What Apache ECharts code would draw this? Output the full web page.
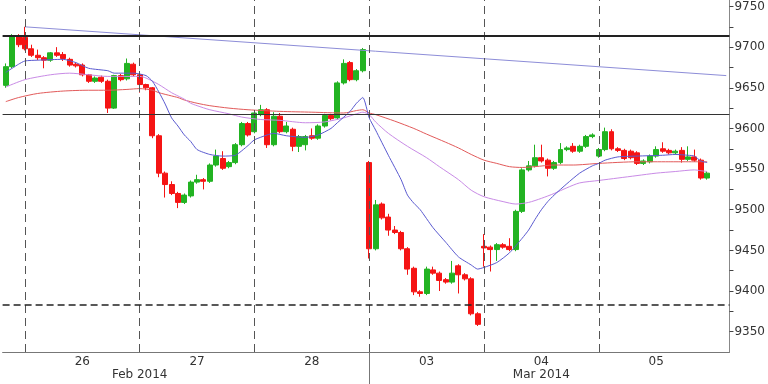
<!DOCTYPE html>
<html><head><meta charset="utf-8">
<script src="https://cdn.jsdelivr.net/npm/echarts@6/dist/echarts.min.js"></script>
<style>html,body{margin:0;padding:0;background:#fff}#c{width:768px;height:384px}</style>
</head><body><div id="c"></div>
<script>
// day names for slot groups (first group = tail of previous day, last = empty start of next day)
const dayLabels = ['25', '26', '27', '28', '03', '04', '05', '06'];
const monthLabels = { 21: 'Feb 2014', 84: 'Mar 2014' };
const daySeparators = [3, 21, 39, 57, 75, 93];

// OHLC, one value per hourly candle
const open = [9653,9676,9714,9712,9698,9690,9687,9684,9693,9691,9685,9679,9678,9666,9658,9663,9658,9625,9665,9661,9679,
 9666,9654,9650,9591,9545,9531,9520,9509,9517,9534,9537,9535,9555,9563,9553,9558,9580,9606,
 9596,9617,9623,9580,9615,9596,9599,9578,9580,9591,9588,9603,9616,9613,9656,9681,9660,9671,
 9558,9452,9507,9491,9475,9472,9452,9428,9399,9397,9426,9422,9414,9411,9431,9420,9415,9372,
 9455,9454,9451,9457,9455,9451,9498,9549,9554,9564,9561,9551,9558,9574,9578,9572,9578,9590,
 9566,9574,9596,9575,9573,9572,9570,9557,9559,9566,9575,9573,9570,9573,9562,9565,9561,9539];
const close = [9676,9714,9703,9698,9690,9687,9684,9693,9690,9686,9678,9677,9666,9658,9662,9658,9625,9665,9660,9680,9666,
 9654,9650,9591,9545,9531,9520,9509,9518,9534,9537,9535,9555,9566,9551,9558,9580,9606,9592,
 9619,9623,9580,9615,9596,9603,9578,9590,9590,9588,9603,9616,9612,9656,9680,9660,9671,9697,
 9452,9506,9490,9475,9472,9452,9427,9399,9397,9427,9422,9413,9411,9422,9420,9415,9372,9359,
 9453,9451,9457,9454,9451,9498,9549,9554,9564,9560,9551,9558,9574,9576,9572,9578,9590,9592,
 9574,9596,9575,9573,9563,9564,9557,9560,9566,9574,9572,9570,9572,9562,9565,9561,9539,9545];
const low = [9650,9674,9700,9696,9688,9684,9674,9682,9688,9683,9676,9675,9664,9656,9656,9656,9619,9624,9658,9659,9664,
 9644,9647,9588,9540,9515,9518,9502,9507,9515,9532,9525,9533,9553,9549,9551,9556,9578,9590,
 9594,9615,9576,9578,9594,9594,9572,9571,9573,9586,9586,9601,9610,9611,9654,9658,9658,9669,
 9440,9450,9488,9468,9470,9450,9420,9395,9393,9395,9420,9400,9409,9409,9397,9413,9370,9357,
 9430,9424,9437,9452,9449,9449,9496,9547,9552,9558,9541,9549,9556,9572,9570,9570,9576,9588,
 9564,9572,9573,9571,9561,9562,9555,9555,9557,9564,9570,9568,9568,9558,9560,9559,9537,9537];
const high = [9680,9716,9716,9725,9703,9697,9689,9694,9700,9694,9687,9681,9680,9667,9664,9665,9660,9666,9667,9686,9681,
 9667,9655,9651,9593,9547,9535,9522,9520,9536,9543,9539,9557,9574,9572,9560,9582,9608,9608,
 9622,9629,9625,9620,9619,9608,9601,9592,9592,9600,9605,9618,9618,9658,9685,9683,9673,9699,
 9560,9512,9509,9495,9480,9474,9454,9430,9401,9430,9430,9424,9416,9437,9433,9422,9417,9374,
 9470,9456,9459,9459,9465,9500,9551,9560,9580,9580,9563,9560,9582,9578,9582,9580,9592,9594,
 9576,9601,9599,9577,9575,9574,9572,9562,9568,9578,9583,9575,9574,9577,9578,9574,9563,9547];

// moving averages: [candle slot, value]
const maBlue = [[0,9669],[2,9679],[3,9683],[5,9684],[9,9685],[11,9681],[13,9674],[16,9671],[17,9668],[20,9668],[22,9665],
 [23,9658],[24,9645],[25,9630],[26,9613],[27,9603],[28,9592],[29,9584],[30,9574],[32,9568],[34,9566],[36,9567],[38,9579],
 [39,9586],[41,9592],[42,9594],[44,9591],[47,9589],[49,9592],[51,9600],[52,9607],[54,9621],[55,9631],[56,9638],[57,9613],
 [58,9598],[60,9567],[62,9537],[63,9518],[64,9508],[65,9500],[67,9478],[69,9460],[71,9442],[73,9432],[74,9427],[75,9429],
 [77,9435],[79,9447],[81,9465],[82,9475],[83,9488],[84,9500],[85,9510],[86,9518],[88,9532],[90,9545],[92,9554],[93,9557],
 [94,9561],[96,9565],[99,9566],[103,9567],[105,9568],[107,9567],[108,9566],[109,9560],[110,9558]];
const maViolet = [[0,9651],[3,9660],[7,9666],[10,9668],[13,9666],[16,9664],[18,9664],[21,9664],[22,9662],[24,9654],[26,9644],
 [27,9640],[28,9636],[29,9631],[30,9628],[32,9623],[35,9618],[37,9614],[40,9611],[43,9610],[47,9607],[50,9608],[53,9613],
 [55,9618],[56,9620],[57,9617],[58,9608],[60,9594],[63,9578],[66,9564],[68,9553],[71,9537],[73,9524],[75,9516],[78,9510],
 [80,9507],[82,9509],[84,9514],[86,9520],[88,9527],[90,9533],[93,9536],[96,9539],[99,9542],[102,9545],[105,9547],[108,9549],
 [109,9548],[110,9547]];
const maRed = [[0,9633],[2,9638],[5,9643],[9,9646],[13,9647],[16,9647],[19,9648],[21,9649],[23,9647],[24,9644],[26,9640],
 [27,9638],[28,9635],[30,9631],[32,9628],[35,9625],[38,9623],[43,9621],[48,9620],[53,9619],[55,9622],[56,9623],[57,9619],
 [58,9617],[61,9609],[64,9600],[66,9593],[69,9583],[71,9576],[73,9568],[75,9561],[77,9557],[79,9553],[81,9552],[83,9553],
 [86,9555],[89,9555],[93,9557],[99,9559],[104,9559],[110,9559]];
const trendLine = [[3,9725],[113,9665]];
const levelHigh = 9714, levelMid = 9618, levelLow = 9383;

const totalSlots = 114;
const categories = [];
for (let s = 0; s < totalSlots; s++) {
  const k = s - 3;
  const di = Math.floor(k / 18) + 1;
  const h = ((k % 18) + 18) % 18;
  categories.push(dayLabels[di] + ' ' + String(h).padStart(2, '0'));
}
const candles = open.map((o, i) => [o, close[i], low[i], high[i]]);

const FONT = 'DejaVu Sans';
const chart = echarts.init(document.getElementById('c'), null, { renderer: 'canvas' });
chart.setOption({
  animation: false,
  backgroundColor: '#fff',
  grid: { left: 2.6, right: 36, top: 0, bottom: 32 },
  xAxis: [{
    type: 'category', data: categories, boundaryGap: true,
    axisLine: { show: true, lineStyle: { color: '#777', width: 1 } },
    axisTick: { show: false },
    splitLine: { show: false },
    axisLabel: {
      interval: (i) => (i - 3) % 18 === 9,
      formatter: (v) => v.split(' ')[0],
      color: '#333', fontSize: 12, fontFamily: FONT, margin: 4
    }
  }, {
    type: 'category', data: categories, boundaryGap: true, position: 'bottom',
    axisLine: { show: false },
    axisTick: { show: true, alignWithLabel: true, interval: (i) => i === 57, length: 32, lineStyle: { color: '#777', width: 1 } },
    axisLabel: {
      interval: (i) => monthLabels[i] !== undefined,
      formatter: (v, i) => monthLabels[i] || '',
      color: '#333', fontSize: 12, fontFamily: FONT, margin: 17
    }
  }],
  yAxis: {
    type: 'value', position: 'right', min: 9325, max: 9758, interval: 25,
    axisLine: { show: true, lineStyle: { color: '#888', width: 1 } },
    axisTick: { show: true, length: 4, lineStyle: { color: '#444' } },
    splitLine: { show: false },
    axisLabel: {
      margin: 5, color: '#333', fontSize: 12, fontFamily: FONT,
      formatter: (v) => (v % 50 === 0 ? String(v) : ''), showMinLabel: false, showMaxLabel: false
    }
  },
  series: [{
    type: 'line', data: [], z: 1, silent: true,
    markLine: {
      silent: true, symbol: ['none', 'none'], label: { show: false }, animation: false,
      data: daySeparators.map(s => ({ xAxis: categories[s], lineStyle: { color: '#555', width: 1, type: [8, 5] } }))
    }
  }, {
    type: 'candlestick', data: candles, z: 2, barWidth: '86%',
    itemStyle: { color: '#22b322', color0: '#f51414', borderColor: '#22b322', borderColor0: '#f51414', borderWidth: 1 }
  }, {
    type: 'line', data: maRed, smooth: 0.25, showSymbol: false, z: 3,
    lineStyle: { color: '#e25a5a', width: 1 }
  }, {
    type: 'line', data: maViolet, smooth: 0.25, showSymbol: false, z: 3,
    lineStyle: { color: '#c98be6', width: 1 }
  }, {
    type: 'line', data: maBlue, smooth: 0.2, showSymbol: false, z: 3,
    lineStyle: { color: '#5a5ad0', width: 1 }
  }, {
    type: 'line', data: trendLine, showSymbol: false, z: 3,
    lineStyle: { color: '#8d8dd8', width: 1 }
  }, {
    type: 'line', data: [], z: 4, silent: true,
    markLine: {
      silent: true, symbol: ['none', 'none'], label: { show: false }, animation: false,
      data: [
        { yAxis: levelHigh, lineStyle: { color: '#222', width: 2, type: 'solid' } },
        { yAxis: levelMid, lineStyle: { color: '#333', width: 1, type: 'solid' } },
        { yAxis: levelLow, lineStyle: { color: '#222', width: 1.5, type: [7, 4] } }
      ]
    }
  }]
});
</script></body></html>
